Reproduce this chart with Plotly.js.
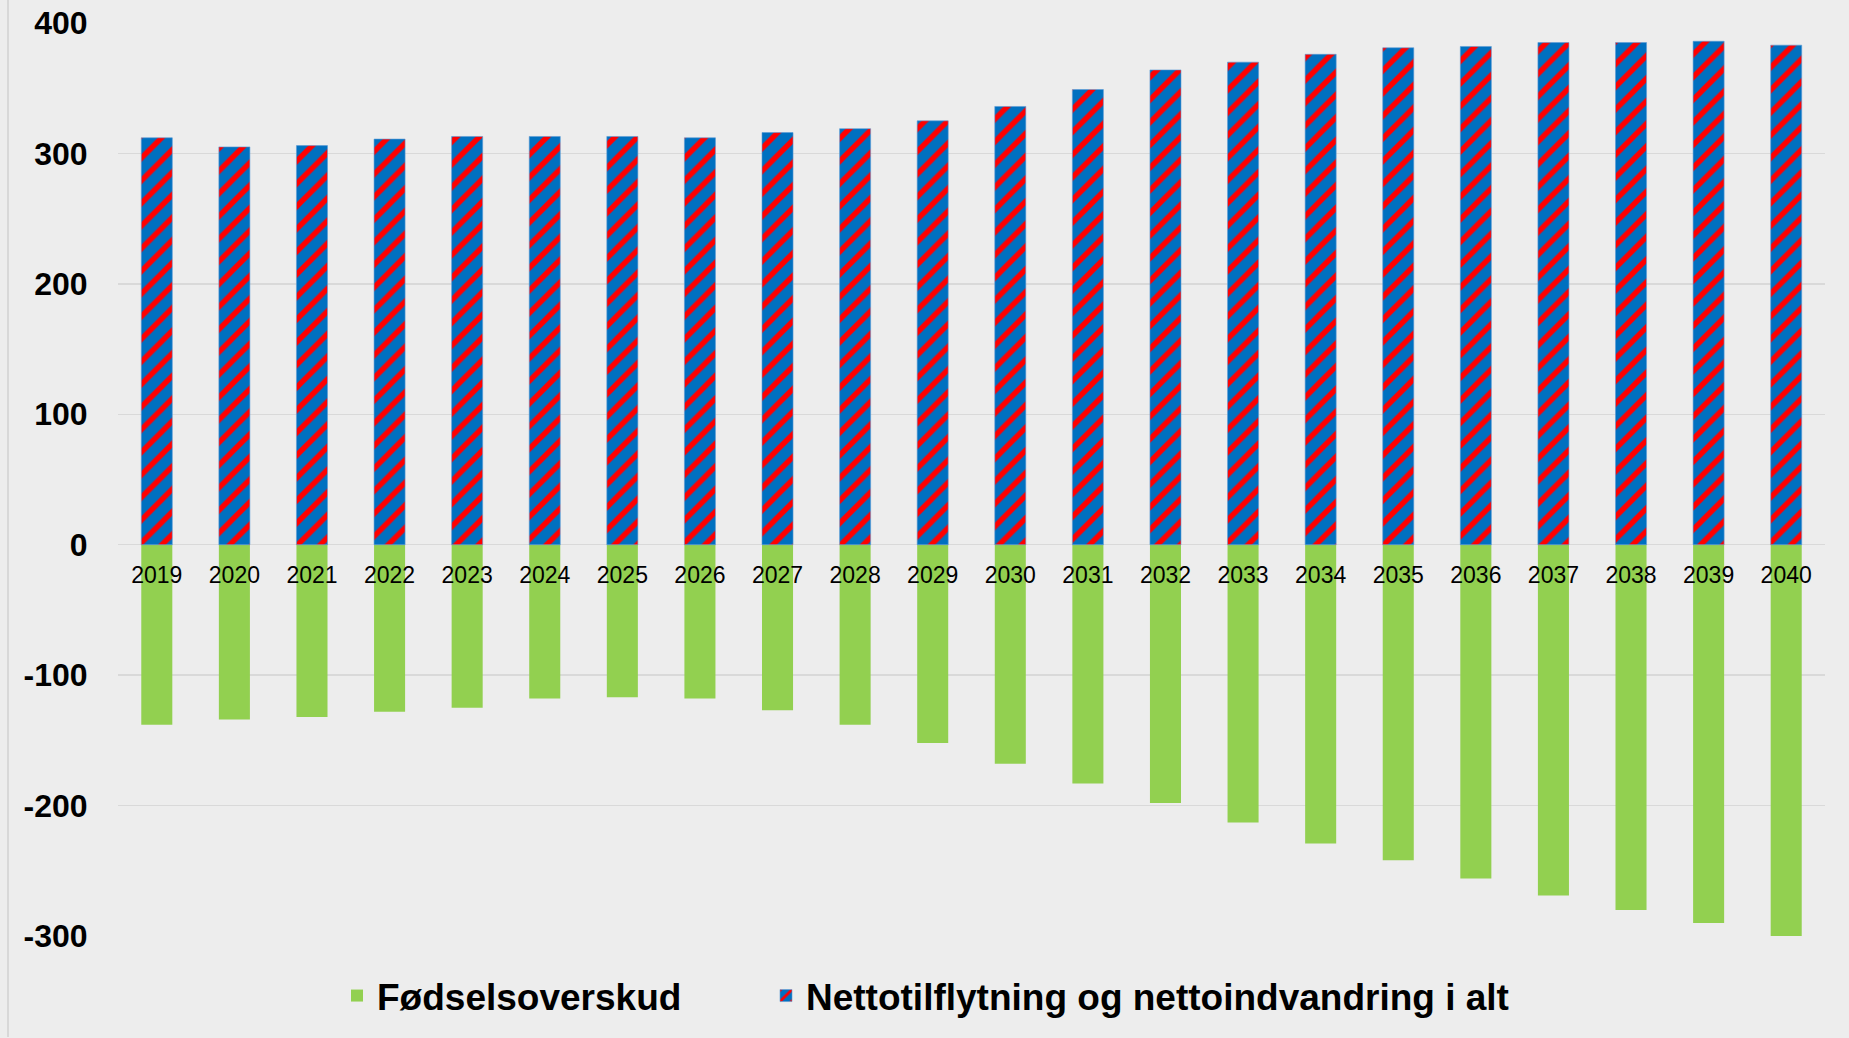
<!DOCTYPE html>
<html>
<head>
<meta charset="utf-8">
<script src="https://cdn.plot.ly/plotly-3.0.1.min.js"></script>
<style>
  html, body { margin: 0; padding: 0; background: #ededed; }
  #chart { width: 1849px; height: 1038px; }
</style>
</head>
<body>
<div id="chart"></div>
<script>
const years = ["2019","2020","2021","2022","2023","2024","2025","2026","2027","2028","2029","2030","2031","2032","2033","2034","2035","2036","2037","2038","2039","2040"];
const fodselsoverskud = [-138,-134,-132,-128,-125,-118,-117,-118,-127,-138,-152,-168,-183,-198,-213,-229,-242,-256,-269,-280,-290,-300];
const nettotilflytning = [312,305,306,311,313,313,313,312,316,319,325,336,349,364,370,376,381,382,385,385,386,383];
const yTicks = [-300,-200,-100,0,100,200,300,400];
const seriesNames = ["Fødselsoverskud", "Nettotilflytning og nettoindvandring i alt"];

const W = 1849, H = 1038;
const L = 118, R = 24, T = 23, B = 101;
const plotW = W - L - R, plotH = H - T - B;

const traces = [
  {
    type: 'bar', x: years, y: fodselsoverskud, name: seriesNames[0],
    marker: { color: '#92D050' }, width: 0.4, hoverinfo: 'skip',
    legend: 'legend'
  },
  {
    type: 'bar', x: years, y: nettotilflytning, name: seriesNames[1],
    marker: {
      color: '#0070C0',
      line: { color: '#5B9BD5', width: 0.6 },
      pattern: { shape: '/', fgcolor: '#FF0000', bgcolor: '#0070C0', size: 16, solidity: 0.34, fillmode: 'replace' }
    },
    width: 0.4, hoverinfo: 'skip',
    legend: 'legend2'
  }
];

const legendFont = { size: 37, weight: 'bold', color: '#000', family: 'Liberation Sans, Arial, sans-serif' };
const legendY = (T + plotH - 996) / plotH;

const layout = {
  width: W, height: H,
  margin: { l: L, r: R, t: T, b: B, pad: 0 },
  paper_bgcolor: '#ededed',
  plot_bgcolor: 'rgba(0,0,0,0)',
  barmode: 'relative',
  showlegend: true,
  font: { family: 'Liberation Sans, Arial, sans-serif', color: '#000' },
  xaxis: {
    type: 'category',
    anchor: 'free',
    position: 300 / 700,
    showgrid: false, showline: false, zeroline: false,
    ticks: '', ticklabelstandoff: 14,
    tickfont: { size: 23, color: '#000', family: 'Liberation Sans, Arial, sans-serif' },
    fixedrange: true
  },
  yaxis: {
    range: [-300, 400],
    tickvals: yTicks,
    ticktext: yTicks.map(String),
    showgrid: true, gridcolor: '#d9d9d9', gridwidth: 1.5,
    zeroline: true, zerolinecolor: '#d9d9d9', zerolinewidth: 1.5,
    showline: false,
    ticks: 'outside', ticklen: 23, tickcolor: 'rgba(0,0,0,0)',
    tickfont: { size: 32, color: '#000', weight: 'bold', family: 'Liberation Sans, Arial, sans-serif' },
    fixedrange: true
  },
  legend: {
    orientation: 'h',
    x: (337 - L) / plotW, xanchor: 'left',
    y: legendY, yanchor: 'middle',
    bgcolor: 'rgba(0,0,0,0)',
    font: legendFont,
    itemwidth: 30
  },
  legend2: {
    orientation: 'h',
    x: (766 - L) / plotW, xanchor: 'left',
    y: legendY, yanchor: 'middle',
    bgcolor: 'rgba(0,0,0,0)',
    font: legendFont,
    itemwidth: 30
  },
  shapes: [
    { type: 'line', xref: 'paper', yref: 'paper', x0: (8 - L) / plotW, x1: (8 - L) / plotW, y0: -B / plotH, y1: 1 + T / plotH,
      line: { color: '#d0d0d0', width: 1.5 } }
  ]
};

Plotly.newPlot('chart', traces, layout, { displayModeBar: false, staticPlot: true });
</script>
</body>
</html>
